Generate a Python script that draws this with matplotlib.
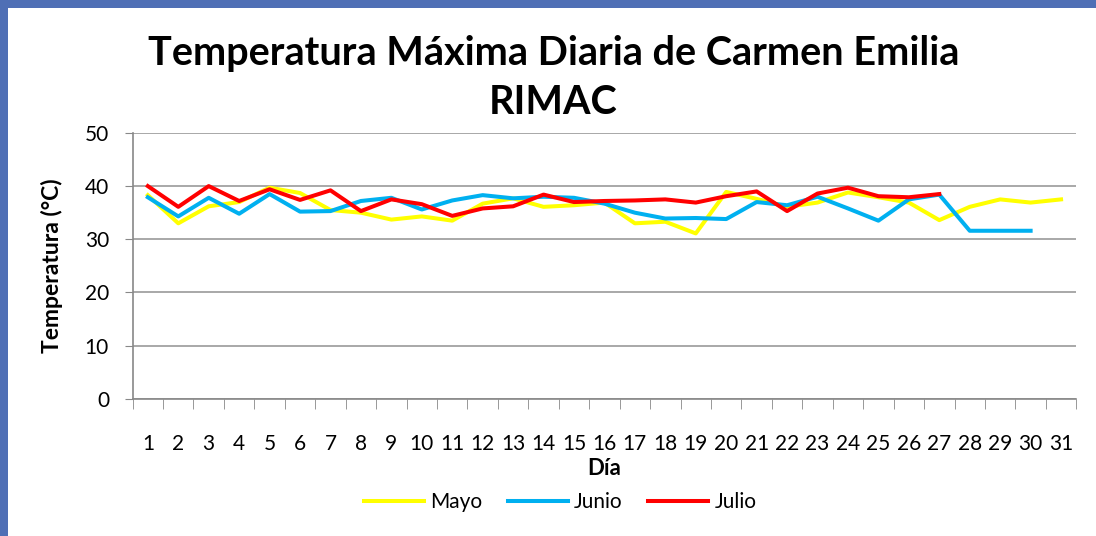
import matplotlib.pyplot as plt
import numpy as np
from matplotlib.patches import Rectangle

plt.rcParams['font.family'] = ['Lato', 'DejaVu Sans']

dias = list(range(1, 32))
mayo = [38.3, 33.0, 36.2, 37.0, 39.7, 38.7, 35.5, 35.0, 33.7, 34.3, 33.5,
        36.7, 37.7, 36.1, 36.4, 36.9, 33.0, 33.3, 31.1, 38.9, 37.6,
        36.1, 36.9, 38.8, 37.9, 36.9, 33.6, 36.1, 37.5, 36.9, 37.5]
junio = [37.9, 34.3, 37.8, 34.8, 38.5, 35.2, 35.3, 37.2, 37.8, 35.6, 37.3,
         38.3, 37.7, 38.0, 37.8, 36.7, 35.0, 33.9, 34.0, 33.8, 37.0,
         36.4, 38.0, 35.8, 33.5, 37.5, 38.4, 31.6, 31.6, 31.6]
julio = [40.0, 36.1, 40.0, 37.2, 39.4, 37.4, 39.2, 35.3, 37.5, 36.6, 34.4,
         35.8, 36.2, 38.4, 37.0, 37.2, 37.3, 37.5, 36.9, 38.1, 39.0,
         35.3, 38.6, 39.7, 38.1, 37.9, 38.5]

fig = plt.figure(figsize=(10.96, 5.36), dpi=100)
ax = fig.add_axes([0.121, 0.256, 0.861, 0.496])

ax.plot(dias[:len(mayo)], mayo, color='#FFFF00', lw=2.9, label='Mayo')
ax.plot(dias[:len(junio)], junio, color='#00B0F0', lw=2.9, label='Junio')
ax.plot(dias[:len(julio)], julio, color='#FF0000', lw=2.9, label='Julio')

ax.set_xlim(0.5, 31.5)
ax.set_ylim(0, 50)
ax.set_yticks(range(0, 51, 10))
ax.set_xticks(dias)
ax.set_xticks(np.arange(0.5, 32, 1), minor=True)
ax.tick_params(axis='x', which='major', length=0, pad=25, labelsize=15, colors='black')
ax.tick_params(axis='x', which='minor', length=7, color='#888888', direction='out')
ax.tick_params(axis='y', length=6, color='#888888', labelsize=15, pad=11)
ax.grid(axis='y', color='#999999', lw=1.2)
ax.set_axisbelow(True)
for s in ['top', 'right']:
    ax.spines[s].set_visible(False)
for s in ['left', 'bottom']:
    ax.spines[s].set_color('#888888')
    ax.spines[s].set_linewidth(1.2)

ax.set_xlabel('Día', fontsize=16, fontweight='bold', labelpad=3)
ax.set_ylabel('Temperatura (°C)', fontsize=16.5, fontweight='bold', labelpad=16)

fig.text(0.505, 0.9, 'Temperatura Máxima Diaria de Carmen Emilia', ha='center', va='center',
         fontsize=28.5, fontweight='bold')
fig.text(0.505, 0.808, 'RIMAC', ha='center', va='center', fontsize=28.5, fontweight='bold')

ax.legend(loc='center', bbox_to_anchor=(0.453, -0.39), ncol=3, frameon=False, fontsize=15,
          handlelength=2.9, handletextpad=0.3, columnspacing=1.2)

# blue frame on top and left edges
fig.patches.append(Rectangle((0, 0.985), 1, 0.015, transform=fig.transFigure,
                             facecolor='#4F6FB5', edgecolor='none'))
fig.patches.append(Rectangle((0, 0), 0.007, 1, transform=fig.transFigure,
                             facecolor='#4F6FB5', edgecolor='none'))

fig.savefig('out.png', dpi=100)
